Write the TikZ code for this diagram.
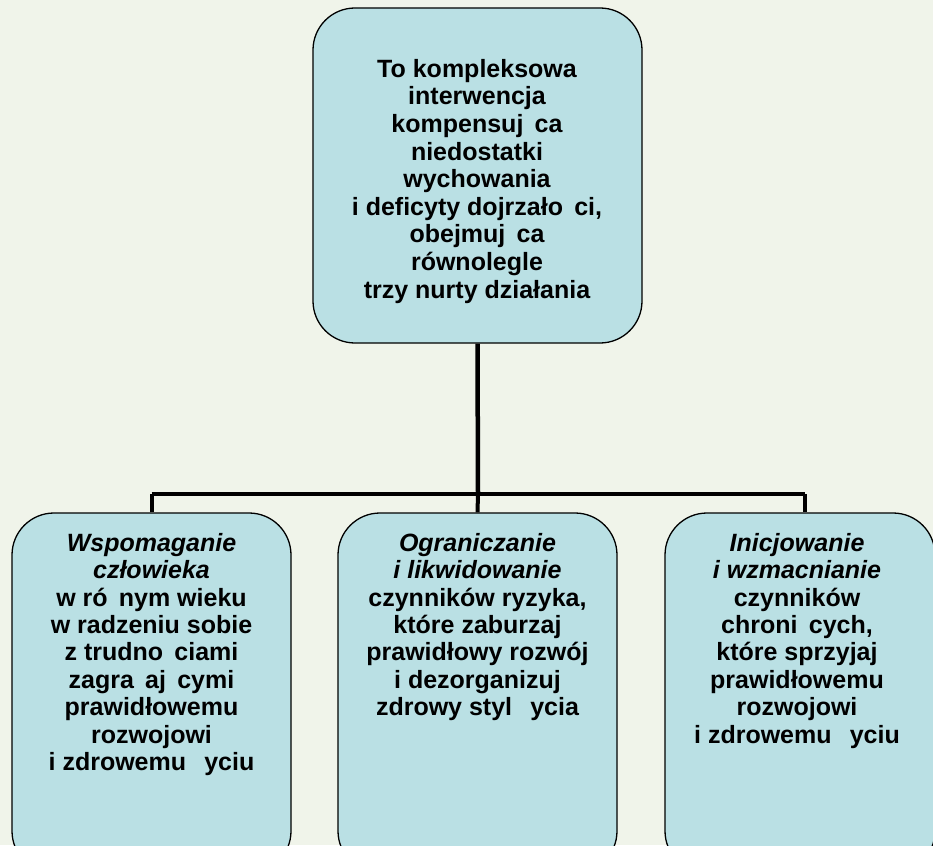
\documentclass[tikz,border=0pt]{standalone}
\usepackage{fontspec}
\setmainfont{Liberation Sans}
\definecolor{boxfill}{RGB}{186,224,228}
\definecolor{bgcol}{RGB}{240,244,234}
\newcommand{\gp}{\hspace{0.45em}}
\begin{document}
\begin{tikzpicture}[x=1pt,y=-1pt,
  box/.style={draw=black, line width=1.3pt, fill=boxfill, rounded corners=42pt, inner sep=0pt},
  txt/.style={align=center, inner sep=0pt, text=black},
  toptxt/.style={txt, font=\fontsize{25}{27.6}\selectfont\bfseries},
  bottxt/.style={txt, font=\fontsize{25}{27.4}\selectfont\bfseries},
  conn/.style={draw=black, line width=4.5pt}]
\useasboundingbox (0,0) rectangle (933,845);
\clip (0,0) rectangle (933,845);
\fill[bgcol] (0,0) rectangle (933,845);
% boxes
\node[box, minimum width=329pt, minimum height=335pt] (top) at (477.5,175.5) {};
\node[box, minimum width=279pt, minimum height=360pt] (b1) at (151.5,693) {};
\node[box, minimum width=279pt, minimum height=360pt] (b2) at (477.5,693) {};
\node[box, minimum width=270pt, minimum height=360pt] (b3) at (800,693) {};
% connectors
\coordinate (hub) at (478,494);
\coordinate (jl) at (151.5,494);
\coordinate (jr) at (805,494);
\draw[conn] (top.south) -- (hub);
\draw[conn, line width=4pt] (jl) -- (jr);
\draw[conn, line width=4pt] (b1.north) -- (jl);
\draw[conn, line width=4pt] (hub) -- (b2.north);
\draw[conn, line width=4pt] (jr) -- (jr |- b3.north);
% texts
\node[toptxt, anchor=north] (ttop) at (477,59) {To kompleksowa\\ interwencja\\ kompensuj{\gp}ca\\ niedostatki\\ wychowania\\ i deficyty dojrzało{\gp}ci,\\ obejmuj{\gp}ca\\ równolegle\\ trzy nurty działania};
\node[bottxt, anchor=north] (t1) at (151.5,533) {\itshape Wspomaganie\\ \itshape człowieka\\ w ró{\gp}nym wieku\\ w radzeniu sobie\\ z trudno{\gp}ciami\\ zagra{\gp}aj{\gp}cymi\\ prawidłowemu\\ rozwojowi\\ i zdrowemu \gp yciu};
\node[bottxt, anchor=north] (t2) at (477.5,533) {\itshape Ograniczanie\\ \itshape i likwidowanie\\ czynników ryzyka,\\ które zaburzaj{\gp}\\ prawidłowy rozwój\\ i dezorganizuj{\gp}\\ zdrowy styl \gp ycia};
\node[bottxt, anchor=north] (t3) at (797,533) {\itshape Inicjowanie\\ \itshape i wzmacnianie\\ czynników\\ chroni{\gp}cych,\\ które sprzyjaj{\gp}\\ prawidłowemu\\ rozwojowi\\ i zdrowemu \gp yciu};
\end{tikzpicture}
\end{document}
